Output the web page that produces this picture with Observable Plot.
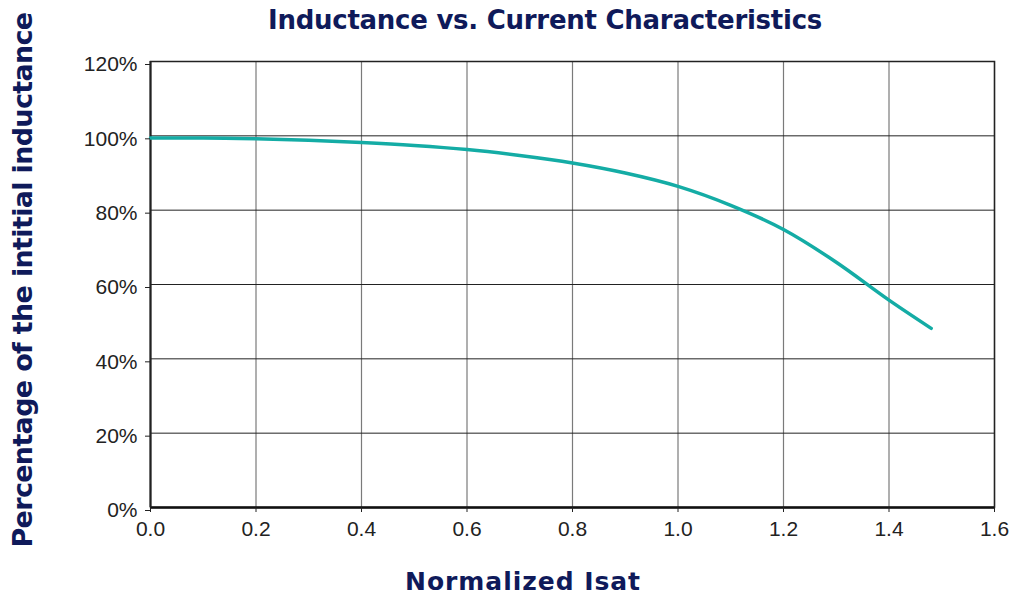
<!DOCTYPE html>
<html>
<head>
<meta charset="utf-8">
<script src="https://cdn.jsdelivr.net/npm/d3@7"></script>
<script src="https://cdn.jsdelivr.net/npm/@observablehq/plot@0.6"></script>
<style>
  html, body { margin: 0; padding: 0; background: #fff; }
  #wrap { position: relative; width: 1011px; height: 596px; overflow: hidden; }
  .lbl { position: absolute; white-space: nowrap; line-height: 1; font-family: "DejaVu Sans", sans-serif; font-weight: 700; color: #0f1a5a; }
  #chart { position: absolute; left: 0; top: 48px; }
</style>
</head>
<body>
<div id="wrap">
  <div id="chart"></div>
  <div id="title" class="lbl"></div>
  <div id="xlabel" class="lbl"></div>
  <div id="ylabel" class="lbl"></div>
</div>
<script>
const titleText = "Inductance vs. Current Characteristics";
const xLabelText = "Normalized Isat";
const yLabelText = "Percentage of the intitial inductance";

const current = [0, 0.1, 0.2, 0.3, 0.4, 0.5, 0.6, 0.7, 0.8, 0.9, 1.0, 1.1, 1.2, 1.3, 1.4, 1.48];
const inductance = [99.4, 99.4, 99.2, 98.8, 98.2, 97.4, 96.3, 94.7, 92.7, 90.0, 86.4, 81.3, 74.8, 66.0, 55.8, 48.2];

const xTicks = [0, 0.2, 0.4, 0.6, 0.8, 1.0, 1.2, 1.4, 1.6];
const yTicks = [0, 20, 40, 60, 80, 100, 120];

const data = current.map((x, i) => ({x, y: inductance[i]}));

const chart = Plot.plot({
  width: 1011,
  height: 500,
  marginLeft: 150,
  marginRight: 17,
  marginTop: 13,
  marginBottom: 41,
  style: {fontFamily: "'Liberation Sans', Arial, sans-serif", color: "#222", overflow: "visible", background: "#fff"},
  x: {domain: [0, 1.6], label: null},
  y: {domain: [0, 120], label: null},
  marks: [
    Plot.gridX(xTicks, {stroke: "#7a7a7a", strokeOpacity: 1, strokeWidth: 1.2}),
    Plot.gridY(yTicks, {stroke: "#222", strokeOpacity: 1, strokeWidth: 1}),
    Plot.frame({stroke: "#222", strokeWidth: 1.5}),
    Plot.ruleY([0], {stroke: "#111", strokeWidth: 2.5}),
    Plot.ruleX([0], {stroke: "#222", strokeWidth: 2}),
    Plot.line(data, {x: "x", y: "y", stroke: "#14aca5", strokeWidth: 3.5, curve: "monotone-x"}),
    Plot.axisX(xTicks, {tickSize: 5, tickPadding: 9, fontSize: 21, stroke: "#222", fill: "#222", tickFormat: d => d.toFixed(1), label: null}),
    Plot.axisY(yTicks, {tickSize: 5, tickPadding: 8, fontSize: 21, dy: 3, stroke: "#222", fill: "#222", tickFormat: d => d + "%", label: null})
  ]
});
document.getElementById("chart").appendChild(chart);

// place navy labels: fit to the reference's text extents
const ctx = document.createElement("canvas").getContext("2d");
function place(id, text, size, targetWidth, cx, baseline, rotated) {
  const el = document.getElementById(id);
  el.textContent = text;
  el.style.fontSize = size + "px";
  ctx.font = `bold ${size}px "DejaVu Sans"`;
  const w = ctx.measureText(text).width;
  const ls = (targetWidth - w) / text.length;
  el.style.letterSpacing = ls + "px";
  const total = w + ls * text.length;
  if (!rotated) {
    el.style.left = (cx - total / 2) + "px";
    el.style.top = (baseline - 0.846 * size) + "px";
  } else {
    el.style.left = (baseline - 0.346 * size) + "px";
    el.style.top = cx + "px";
    el.style.transform = "translate(-50%, -50%) rotate(-90deg)";
  }
}
place("title", titleText, 26, 554, 545, 28.5, false);
place("xlabel", xLabelText, 25, 236, 523, 590, false);
place("ylabel", yLabelText, 27, 535, 279.5, 31.7, true);
</script>
</body>
</html>
